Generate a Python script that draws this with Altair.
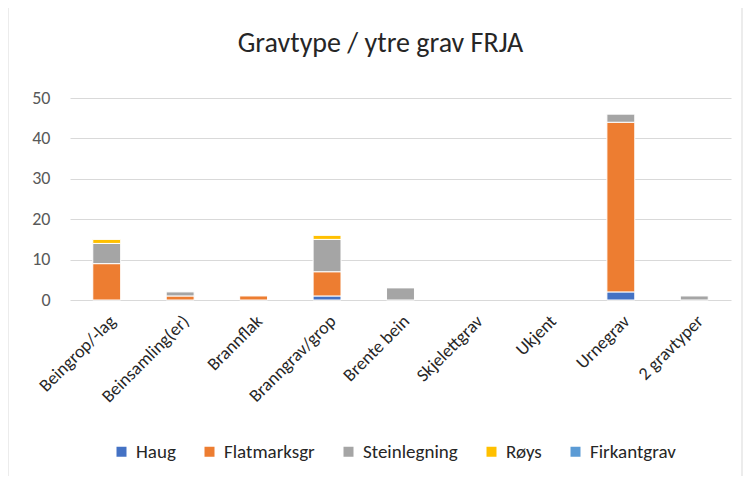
import altair as alt
import pandas as pd

categories = ["Beingrop/-lag", "Beinsamling(er)", "Brannflak", "Branngrav/grop",
              "Brente bein", "Skjelettgrav", "Ukjent", "Urnegrav", "2 gravtyper"]
series = ["Haug", "Flatmarksgr", "Steinlegning", "Røys", "Firkantgrav"]
colors = ["#4472C4", "#ED7D31", "#A5A5A5", "#FFC000", "#5B9BD5"]
haug = [0, 0, 0, 1, 0, 0, 0, 2, 0]
flatmarksgr = [9, 1, 1, 6, 0, 0, 0, 42, 0]
steinlegning = [5, 1, 0, 8, 3, 0, 0, 2, 1]
roys = [1, 0, 0, 1, 0, 0, 0, 0, 0]
firkantgrav = [0, 0, 0, 0, 0, 0, 0, 0, 0]
y_ticks = [0, 10, 20, 30, 40, 50]

values = [haug, flatmarksgr, steinlegning, roys, firkantgrav]
rows = []
for si, (s, vals) in enumerate(zip(series, values)):
    for c, v in zip(categories, vals):
        if v > 0:
            rows.append({"cat": c, "serie": s, "value": v, "ord": si})
df = pd.DataFrame(rows)

FONT = "Carlito, Lato, sans-serif"

bars = alt.Chart(df).mark_bar(stroke="white", strokeWidth=1).encode(
    x=alt.X("cat:N", sort=categories, scale=alt.Scale(domain=categories, paddingInner=0.62, paddingOuter=0.31),
            axis=alt.Axis(title=None, labelAngle=-45, labelFontSize=18, labelColor="#262626",
                          labelFont=FONT, ticks=False, domain=False, labelPadding=12, labelLimit=200)),
    y=alt.Y("value:Q", stack="zero", scale=alt.Scale(domain=[0, 50], nice=False),
            axis=alt.Axis(title=None, values=y_ticks, labelFontSize=18, labelColor="#595959",
                          labelFont=FONT, ticks=False, domain=False, labelPadding=20,
                          gridColor="#D9D9D9", gridWidth=1)),
    color=alt.Color("serie:N", scale=alt.Scale(domain=series, range=colors),
                    legend=alt.Legend(title=None, orient="none", legendX=42, legendY=344,
                                      direction="horizontal", symbolType="square", symbolSize=100,
                                      symbolStrokeWidth=0, labelFontSize=19, labelFont=FONT,
                                      labelColor="#262626", columnPadding=24, labelOffset=5)),
    order=alt.Order("ord:Q"),
)

border = alt.Chart(pd.DataFrame({"a": [0]})).mark_rect(fill=None, stroke="#D9D9D9", strokeWidth=1).encode(
    x=alt.value(-62), x2=alt.value(672), y=alt.value(-98), y2=alt.value(382)
)

chart = alt.layer(border, bars).properties(
    width=661, height=202,
    padding={"left": 62, "top": 90, "right": 12, "bottom": 176},
    autosize=alt.AutoSizeParams(type="none"),
    title=alt.TitleParams("Gravtype / ytre grav FRJA", fontSize=28, font=FONT, color="#262626",
                          fontWeight="normal", anchor="middle", baseline="alphabetic",
                          dx=-20, dy=80, offset=0),
).configure_view(stroke=None)

chart.save("out.html", embed_options={"renderer": "svg", "actions": False})
